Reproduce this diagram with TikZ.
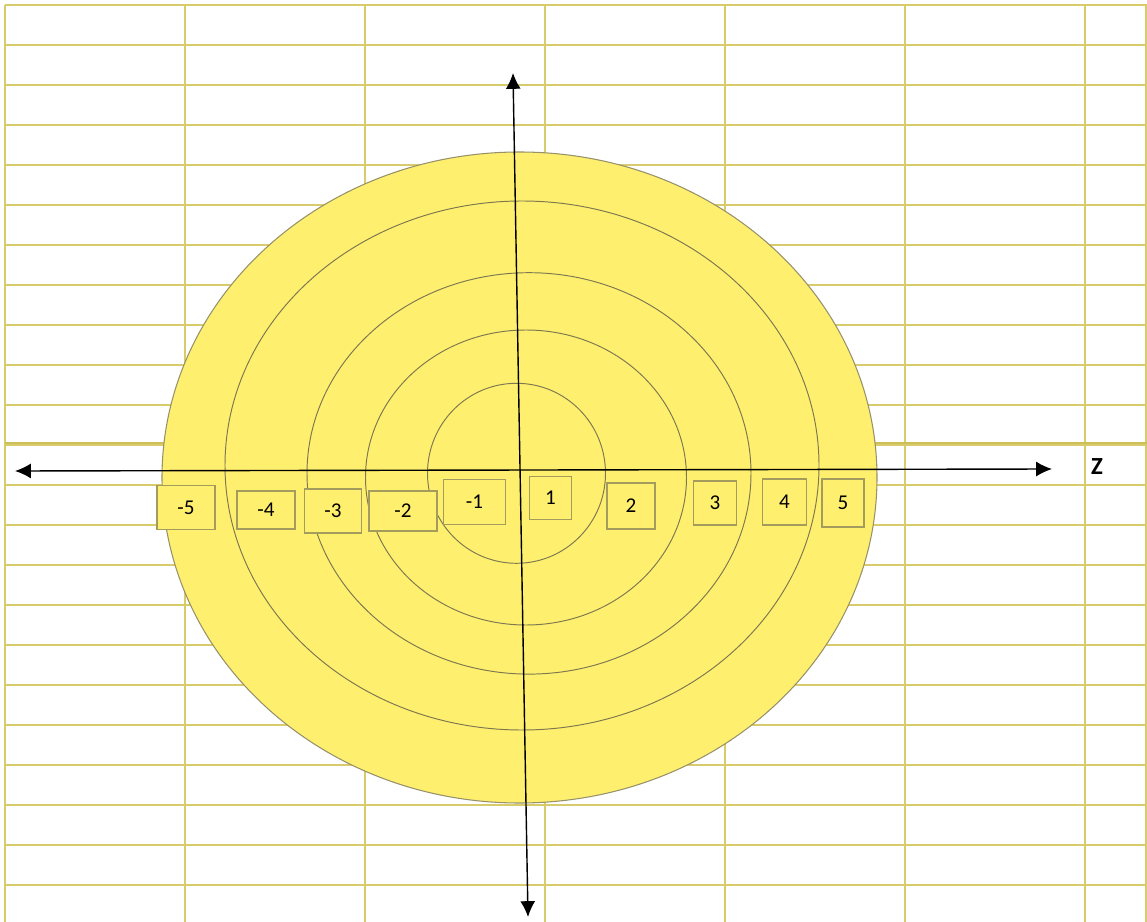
\documentclass[tikz,border=0pt]{standalone}
\usepackage{fontspec}
\setmainfont{Carlito}
\usetikzlibrary{arrows.meta}
\definecolor{gridline}{HTML}{D8CB6C}
\definecolor{gridbold}{HTML}{CDBF58}
\definecolor{discfill}{HTML}{FFEF6E}
\definecolor{discedge}{HTML}{97916A}
\definecolor{ringline}{HTML}{7D7850}
\definecolor{boxedge}{HTML}{A39C5C}

\begin{document}
\begin{tikzpicture}[x=0.02cm,y=-0.02cm,font=\fontsize{12}{14}\selectfont,
  gridrule/.style={draw=gridline,line width=1.1pt},
  disc/.style={draw=discedge,fill=discfill,line width=0.6pt},
  ring/.style={draw=ringline,line width=0.55pt},
  axis/.style={draw=black,line width=0.8pt,{Latex[length=9pt,width=8.5pt]}-{Latex[length=9pt,width=8.5pt]}},
  numbox/.style={draw=boxedge,fill=discfill,line width=0.7pt,inner sep=0pt}]
\useasboundingbox (0,0) rectangle (1147,922);
% sheet grid behind the disc
\foreach \gy in {5,45,...,885} \draw[gridrule] (5,\gy) -- (1147,\gy);
\foreach \gx in {5,185,365,545,725,905,1085,1146} \draw[gridrule] (\gx,5) -- (\gx,922);
\draw[gridrule,draw=gridbold,line width=1.7pt] (5,443) -- (1147,443);
% disc and rings
\draw[disc] (519.5,477.5) ellipse [x radius=357.5,y radius=325.5];
\draw[ring] (516.5,473.3) ellipse [x radius=89,y radius=90];
\draw[ring] (526,477.5) ellipse [x radius=160.5,y radius=147.5];
\draw[ring] (529,473.4) ellipse [x radius=222,y radius=200.7];
\draw[ring] (522,465.5) ellipse [x radius=297,y radius=264.5];
% axes
\coordinate (zneg) at (15,471);
\coordinate (zpos) at (1052,469);
\coordinate (ytop) at (513,73);
\coordinate (ybot) at (528,917);
\draw[axis] (zneg) -- (zpos);
\draw[axis] (ybot) -- (ytop);
\node[font=\fontsize{14}{16}\selectfont\bfseries] (zname) at (1097,467) {Z};
% number boxes
\node[numbox,minimum width=1.16cm,minimum height=0.88cm] (m5) at (186,507.5) {-5};
\node[numbox,minimum width=1.16cm,minimum height=0.76cm] (m4) at (266,510) {-4};
\node[numbox,minimum width=1.14cm,minimum height=0.88cm] (m3) at (333,511) {-3};
\node[numbox,minimum width=1.36cm,minimum height=0.80cm] (m2) at (403,511) {-2};
\node[numbox,minimum width=1.24cm,minimum height=0.90cm] (m1) at (474.5,502) {-1};
\node[numbox,minimum width=0.84cm,minimum height=0.86cm] (p1) at (550.5,498) {1};
\node[numbox,minimum width=0.96cm,minimum height=0.92cm] (p2) at (631,506) {2};
\node[numbox,minimum width=0.86cm,minimum height=0.88cm] (p3) at (715,503) {3};
\node[numbox,minimum width=0.88cm,minimum height=0.92cm] (p4) at (784.5,502) {4};
\node[numbox,minimum width=0.84cm,minimum height=0.96cm] (p5) at (843,503) {5};
\end{tikzpicture}
\end{document}
